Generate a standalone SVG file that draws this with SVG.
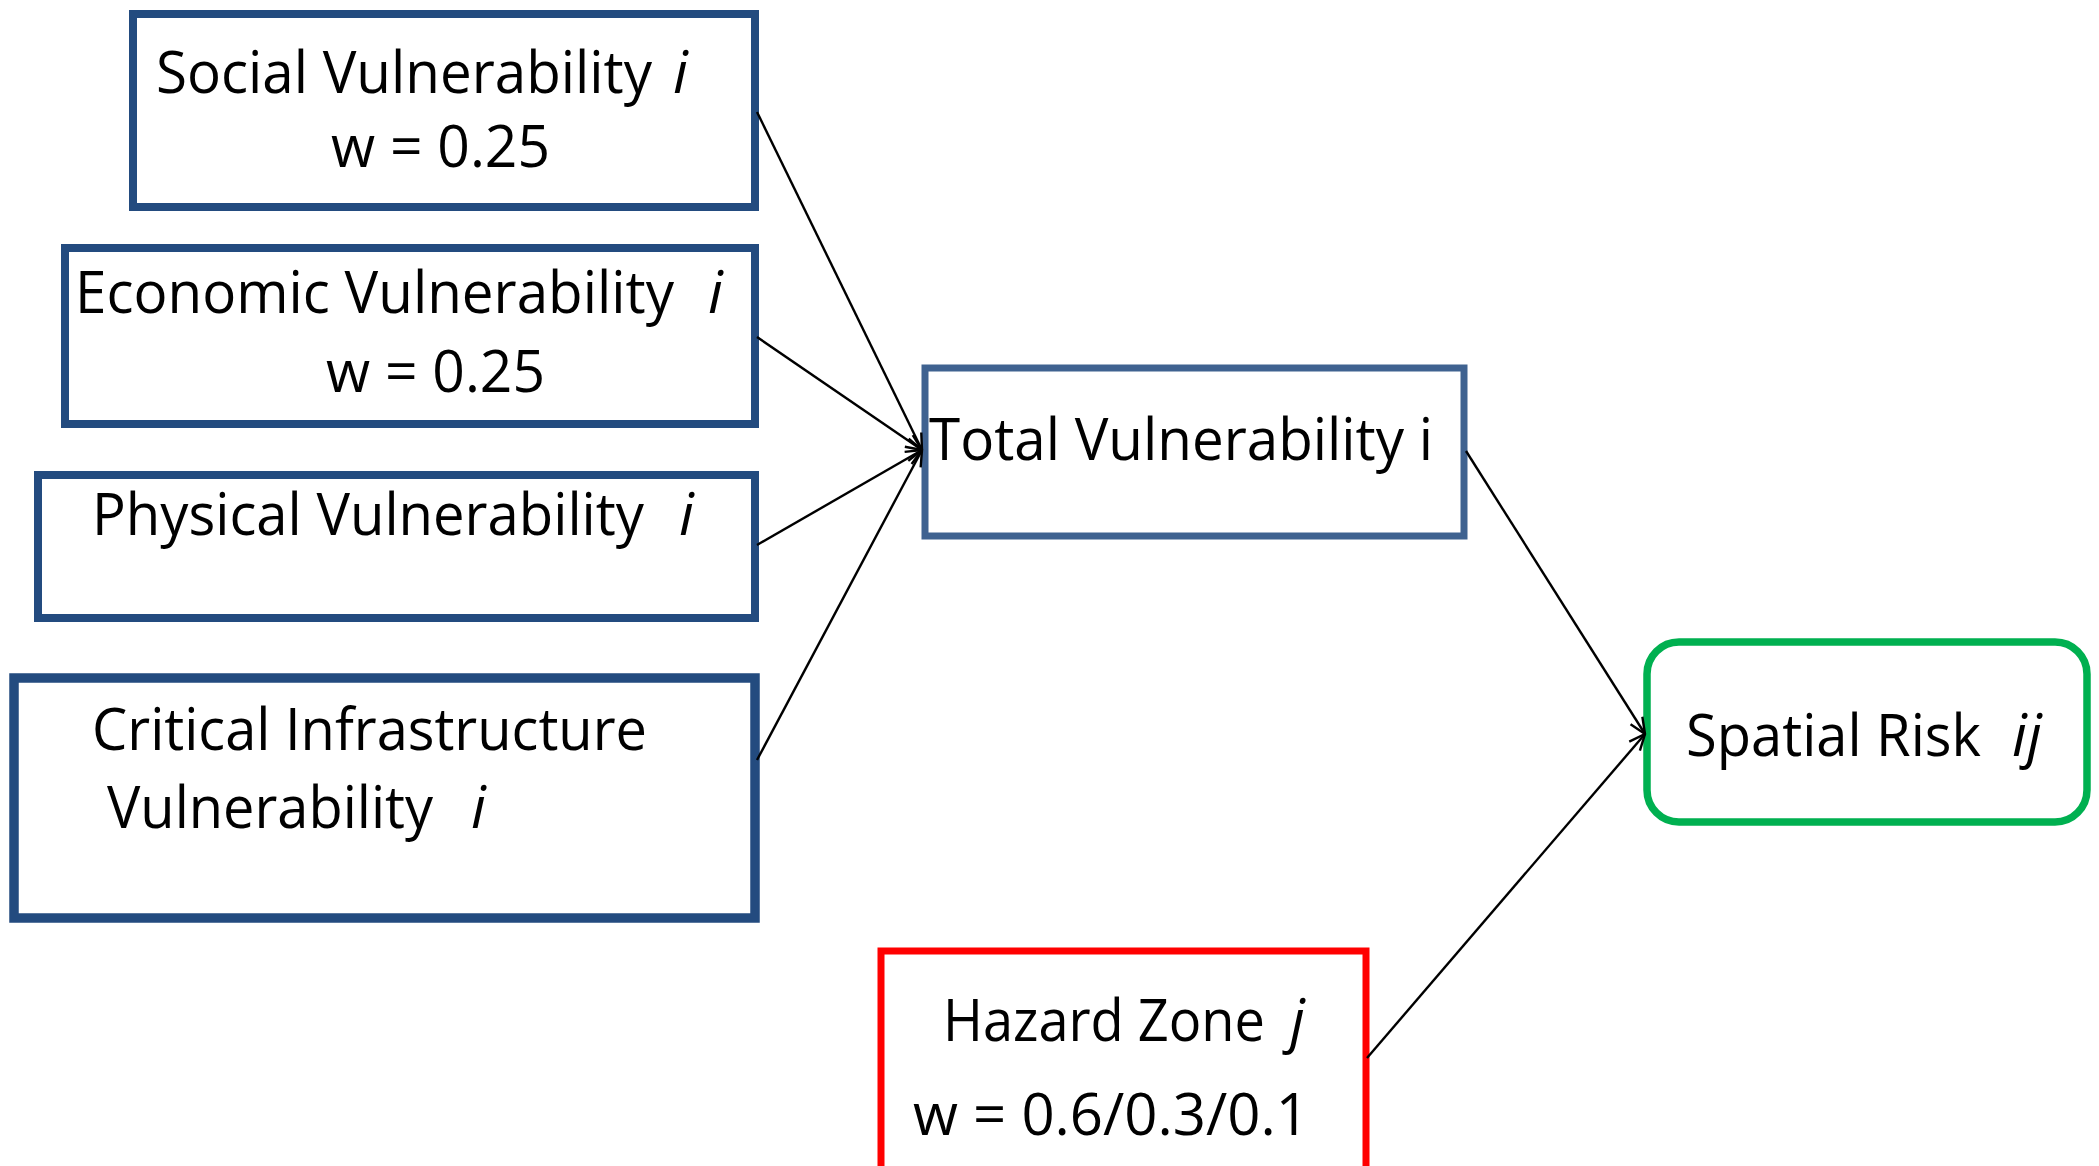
<svg xmlns="http://www.w3.org/2000/svg" width="2099" height="1166" viewBox="0 0 2099 1166">
<style>
.box{fill:#fff;stroke:#234B7F;stroke-width:8}
.tot{fill:#fff;stroke:#3F6290;stroke-width:7}
.risk{fill:#fff;stroke:#00B050;stroke-width:7.5}
.haz{fill:#fff;stroke:#FF0000;stroke-width:7}
.t{font-family:"Open Sans","Noto Sans",sans-serif;font-size:59px;fill:#000}
.it{font-style:italic}
.c{stroke:#000;stroke-width:2.4;fill:none;marker-end:url(#arr)}
</style>
<defs>
<marker id="arr" viewBox="0 0 20 20" refX="19" refY="10" markerWidth="20" markerHeight="20" markerUnits="userSpaceOnUse" orient="auto">
<path d="M3,3 L19,10 L3,17" fill="none" stroke="#000" stroke-width="2.4"/>
</marker>
</defs>
<rect width="2099" height="1166" fill="#fff"/>
<g id="social">
<rect class="box" x="133" y="14" width="622" height="193"/>
<text class="t" x="156" y="93" textLength="496" lengthAdjust="spacingAndGlyphs">Social Vulnerability</text>
<text class="t it" x="673" y="93">i</text>
<text class="t" x="331" y="167" textLength="219" lengthAdjust="spacingAndGlyphs">w = 0.25</text>
</g>
<g id="economic">
<rect class="box" x="65" y="248" width="690" height="176"/>
<text class="t" x="75" y="313" textLength="599" lengthAdjust="spacingAndGlyphs">Economic Vulnerability</text>
<text class="t it" x="708" y="313">i</text>
<text class="t" x="326" y="392" textLength="219" lengthAdjust="spacingAndGlyphs">w = 0.25</text>
</g>
<g id="physical">
<rect class="box" x="38" y="475" width="717" height="143"/>
<text class="t" x="92" y="535" textLength="552" lengthAdjust="spacingAndGlyphs">Physical Vulnerability</text>
<text class="t it" x="679" y="535">i</text>
</g>
<g id="critical">
<rect class="box" x="14" y="678" width="741" height="240" style="stroke-width:9.5"/>
<text class="t" x="92" y="750" textLength="555" lengthAdjust="spacingAndGlyphs">Critical Infrastructure</text>
<text class="t" x="107" y="828" textLength="326" lengthAdjust="spacingAndGlyphs">Vulnerability</text>
<text class="t it" x="471" y="828">i</text>
</g>
<g id="total">
<rect class="tot" x="925" y="368" width="539" height="168"/>
<text class="t" x="929" y="460" textLength="504" lengthAdjust="spacingAndGlyphs">Total Vulnerability i</text>
</g>
<g id="spatial">
<rect class="risk" x="1647" y="642" width="440" height="180" rx="32"/>
<text class="t" x="1686" y="756" textLength="295" lengthAdjust="spacingAndGlyphs">Spatial Risk</text>
<text class="t it" x="2012" y="756">ij</text>
</g>
<g id="hazard">
<rect class="haz" x="881" y="951" width="485" height="230"/>
<text class="t" x="943" y="1041" textLength="322" lengthAdjust="spacingAndGlyphs">Hazard Zone</text>
<text class="t it" x="1290" y="1041">j</text>
<text class="t" x="913" y="1135" textLength="396" lengthAdjust="spacingAndGlyphs">w = 0.6/0.3/0.1</text>
</g>
<g id="connectors">
<line class="c" x1="757" y1="112" x2="922" y2="450"/>
<line class="c" x1="757" y1="337" x2="922" y2="450"/>
<line class="c" x1="757" y1="545" x2="922" y2="450"/>
<line class="c" x1="757" y1="760" x2="922" y2="450"/>
<line class="c" x1="1466" y1="451" x2="1645" y2="734"/>
<line class="c" x1="1367" y1="1058" x2="1645" y2="734"/>
</g>
</svg>
